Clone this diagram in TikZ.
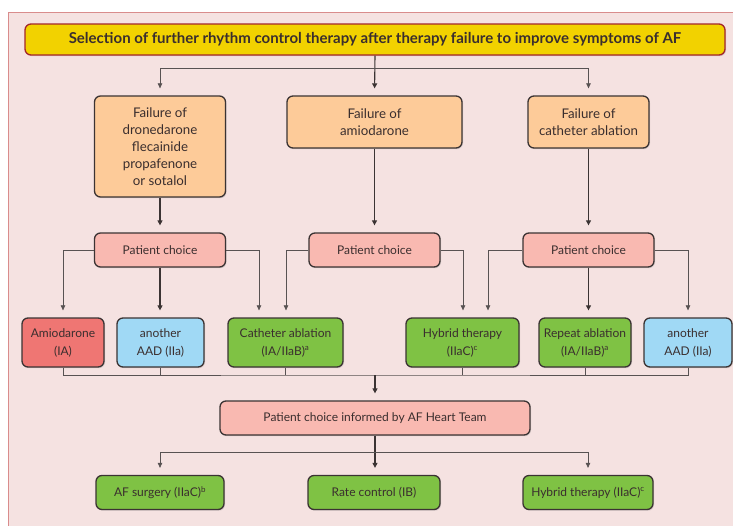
\documentclass[tikz,border=0pt]{standalone}
\usepackage{fontspec}
\setmainfont{Lato}
\usetikzlibrary{arrows.meta,positioning,shadows}
\definecolor{panelbg}{HTML}{F5E2E1}
\definecolor{panelline}{HTML}{D98C8C}
\definecolor{titlefill}{HTML}{F2D200}
\definecolor{titleline}{HTML}{A3262A}
\definecolor{peach}{HTML}{FDCB99}
\definecolor{rose}{HTML}{F9B9B1}
\definecolor{redbox}{HTML}{EF7673}
\definecolor{bluebox}{HTML}{A0D9F5}
\definecolor{greenbox}{HTML}{7FC244}
\definecolor{edge}{HTML}{3B3333}
\definecolor{ink}{HTML}{3A2E2E}

\begin{document}
\begin{tikzpicture}[x=1pt,y=-1pt,
  box/.style={draw=edge,line width=1.3pt,rounded corners=6pt,align=center,
              text=ink,inner sep=2pt,font=\fontsize{12}{18}\selectfont,
              drop shadow={shadow xshift=1pt,shadow yshift=-1.2pt,opacity=0.25}},
  fail/.style={box,fill=peach,font=\fontsize{13.3}{17}\selectfont},
  pc/.style={box,fill=rose,minimum width=131pt,minimum height=34pt},
  opt/.style={box,minimum height=49pt},
  leaf/.style={box,fill=greenbox,minimum height=34pt},
  ar/.style={draw=edge,line width=1.1pt,-{Triangle[length=5pt,width=5pt]},shorten >=7pt},
  arthin/.style={draw=edge!85,line width=0.6pt,-{Triangle[length=5pt,width=4.5pt]},shorten >=7pt},
  ln/.style={draw=edge!85,line width=0.6pt},
]
\useasboundingbox (0,0) rectangle (733,525);
\fill[white] (0,0) rectangle (733,525);
\draw[fill=panelbg,draw=panelline,line width=0.8pt] (8,12) rectangle (745,540);

\node[box,fill=titlefill,draw=titleline,minimum width=700pt,minimum height=31pt,
      font=\bfseries\fontsize{15}{17}\selectfont] (title) at (375,39.5)
  {Selection of further rhythm control therapy after therapy failure to improve symptoms of AF};

\node[fail,minimum width=131pt,minimum height=101pt] (f1) at (160,146.5)
  {Failure of\\dronedarone\\flecainide\\propafenone\\or sotalol};
\node[fail,minimum width=175pt,minimum height=52pt] (f2) at (374.5,122)
  {Failure of\\amiodarone};
\node[fail,minimum width=121pt,minimum height=52pt] (f3) at (588.5,122)
  {Failure of\\catheter ablation};

\node[pc] (pc1) at (160,250) {Patient choice};
\node[pc] (pc2) at (374.5,250) {Patient choice};
\node[pc] (pc3) at (588.5,250) {Patient choice};

\node[opt,fill=redbox,minimum width=82pt] (amio) at (63,342.5) {Amiodarone\\(IA)};
\node[opt,fill=bluebox,minimum width=87pt] (aad1) at (160.5,342.5) {another\\AAD (IIa)};
\node[opt,fill=greenbox,minimum width=115pt] (cath) at (285.5,342.5)
  {Catheter ablation\\(IA/IIaB)\textsuperscript{a}};
\node[opt,fill=greenbox,minimum width=113pt] (hyb) at (462.5,342.5)
  {Hybrid therapy\\(IIaC)\textsuperscript{c}};
\node[opt,fill=greenbox,minimum width=92pt] (rep) at (585,342.5)
  {Repeat ablation\\(IA/IIaB)\textsuperscript{a}};
\node[opt,fill=bluebox,minimum width=88pt] (aad2) at (688,342.5) {another\\AAD (IIa)};

\node[box,fill=rose,minimum width=310pt,minimum height=34pt] (team) at (375,418)
  {Patient choice informed by AF Heart Team};

\node[leaf,minimum width=128pt] (surg) at (160,492.5) {AF surgery (IIaC)\textsuperscript{b}};
\node[leaf,minimum width=132pt] (rate) at (374,492.5) {Rate control (IB)};
\node[leaf,minimum width=130pt] (hyb2) at (588,492.5) {Hybrid therapy (IIaC)\textsuperscript{c}};

\coordinate (split1) at (375,68);
\coordinate (merge) at (375,375);
\coordinate (split2) at (375,452);

\draw[ar] (title.south) -- (f2.north);
\draw[arthin] (split1) -| (f1.north);
\draw[arthin] (split1) -| (f3.north);

\draw[ar] (f1.south) -- (pc1.north);
\draw[ar] (f2.south) -- (pc2.north);
\draw[ar] (f3.south) -- (pc3.north);

\draw[arthin] (pc1.west) -| (amio.north);
\draw[ar] (pc1.south) -- (pc1.south |- aad1.north);
\draw[arthin] (pc1.east) -| ([xshift=-26.5pt]cath.north);
\draw[arthin] (pc2.west) -| ([xshift=0.5pt]cath.north);
\draw[arthin] (pc2.east) -| ([xshift=0.5pt]hyb.north);
\draw[arthin] (pc3.west) -| ([xshift=25.5pt]hyb.north);
\draw[ar] (pc3.south) -- (pc3.south |- rep.north);
\draw[arthin] (pc3.east) -| (aad2.north);

\draw[ln] (amio.south) |- (merge) -| (aad2.south);
\draw[ln] (aad1.south) -- (aad1.south |- merge);
\draw[ln] (cath.south) -- (cath.south |- merge);
\draw[ln] (hyb.south) -- (hyb.south |- merge);
\draw[ln] (rep.south) -- (rep.south |- merge);
\draw[ar] (merge) -- (team.north);

\draw[ar] (team.south) -- (team.south |- rate.north);
\draw[arthin] (split2) -| (surg.north);
\draw[arthin] (split2) -| (hyb2.north);
\end{tikzpicture}
\end{document}
